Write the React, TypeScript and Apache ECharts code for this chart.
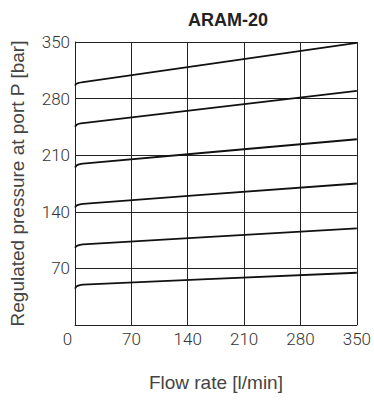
import React, { useEffect, useRef } from "react";
import * as echarts from "echarts";

const title = "ARAM-20";
const xName = "Flow rate [l/min]";
const yName = "Regulated pressure at port P [bar]";
const flow = [0, 2, 5, 10, 350];
const curve1 = [296, 298.5, 299.6, 300.5, 349];
const curve2 = [245, 247.6, 248.9, 249.8, 289.6];
const curve3 = [194.7, 197.3, 198.6, 199.6, 229.7];
const curve4 = [145.4, 147.9, 149.0, 149.9, 175];
const curve5 = [95.4, 97.8, 98.9, 99.8, 119.6];
const curve6 = [44.9, 47.8, 49.1, 50.0, 64.6];
const curves = [curve1, curve2, curve3, curve4, curve5, curve6];

export default function App() {
  const ref = useRef<HTMLDivElement>(null);
  useEffect(() => {
    if (!ref.current) return;
    const chart = echarts.init(ref.current, null, { renderer: "svg" });
    const tickFont = {
      fontFamily: "Roboto",
      fontWeight: 300,
      fontSize: 17,
      color: "#333",
    };
    chart.setOption({
      animation: false,
      title: {
        text: title,
        left: 223,
        top: 6,
        textAlign: "center",
        textStyle: {
          fontFamily: "Liberation Sans",
          fontWeight: "bold",
          fontSize: 18,
          color: "#222",
        },
      },
      grid: { left: 74, right: 16, top: 42, bottom: 76, containLabel: false },
      xAxis: {
        type: "value",
        min: 0,
        max: 350,
        interval: 70,
        name: xName,
        nameLocation: "middle",
        nameGap: 48,
        nameTextStyle: { fontFamily: "Liberation Sans", fontSize: 19, color: "#444" },
        axisLine: { show: true, lineStyle: { color: "#222", width: 1 } },
        axisTick: { show: false },
        axisLabel: {
          ...tickFont,
          margin: 5,
          formatter: (v: number) => (v === 0 ? "{z|0}" : String(v)),
          rich: { z: { ...tickFont, padding: [0, 15, 0, 0] } },
        },
        splitLine: { show: true, lineStyle: { color: "#222", width: 1 } },
      },
      yAxis: {
        type: "value",
        min: 0,
        max: 350,
        interval: 70,
        name: yName,
        nameLocation: "middle",
        nameGap: 48,
        nameTextStyle: { fontFamily: "Liberation Sans", fontSize: 19, color: "#444" },
        axisLine: { show: true, lineStyle: { color: "#222", width: 1 } },
        axisTick: { show: false },
        axisLabel: {
          ...tickFont,
          margin: 5,
          formatter: (v: number) => (v === 0 ? "" : String(v)),
        },
        splitLine: { show: true, lineStyle: { color: "#222", width: 1 } },
      },
      series: curves.map((c) => ({
        type: "line",
        data: flow.map((f, i) => [f, c[i]]),
        showSymbol: false,
        smooth: 0.3,
        lineStyle: { color: "#111", width: 1.8 },
      })),
    });
    return () => chart.dispose();
  }, []);
  return <div ref={ref} style={{ width: 374, height: 401, position: "absolute", left: 0, top: 0 }} />;
}
